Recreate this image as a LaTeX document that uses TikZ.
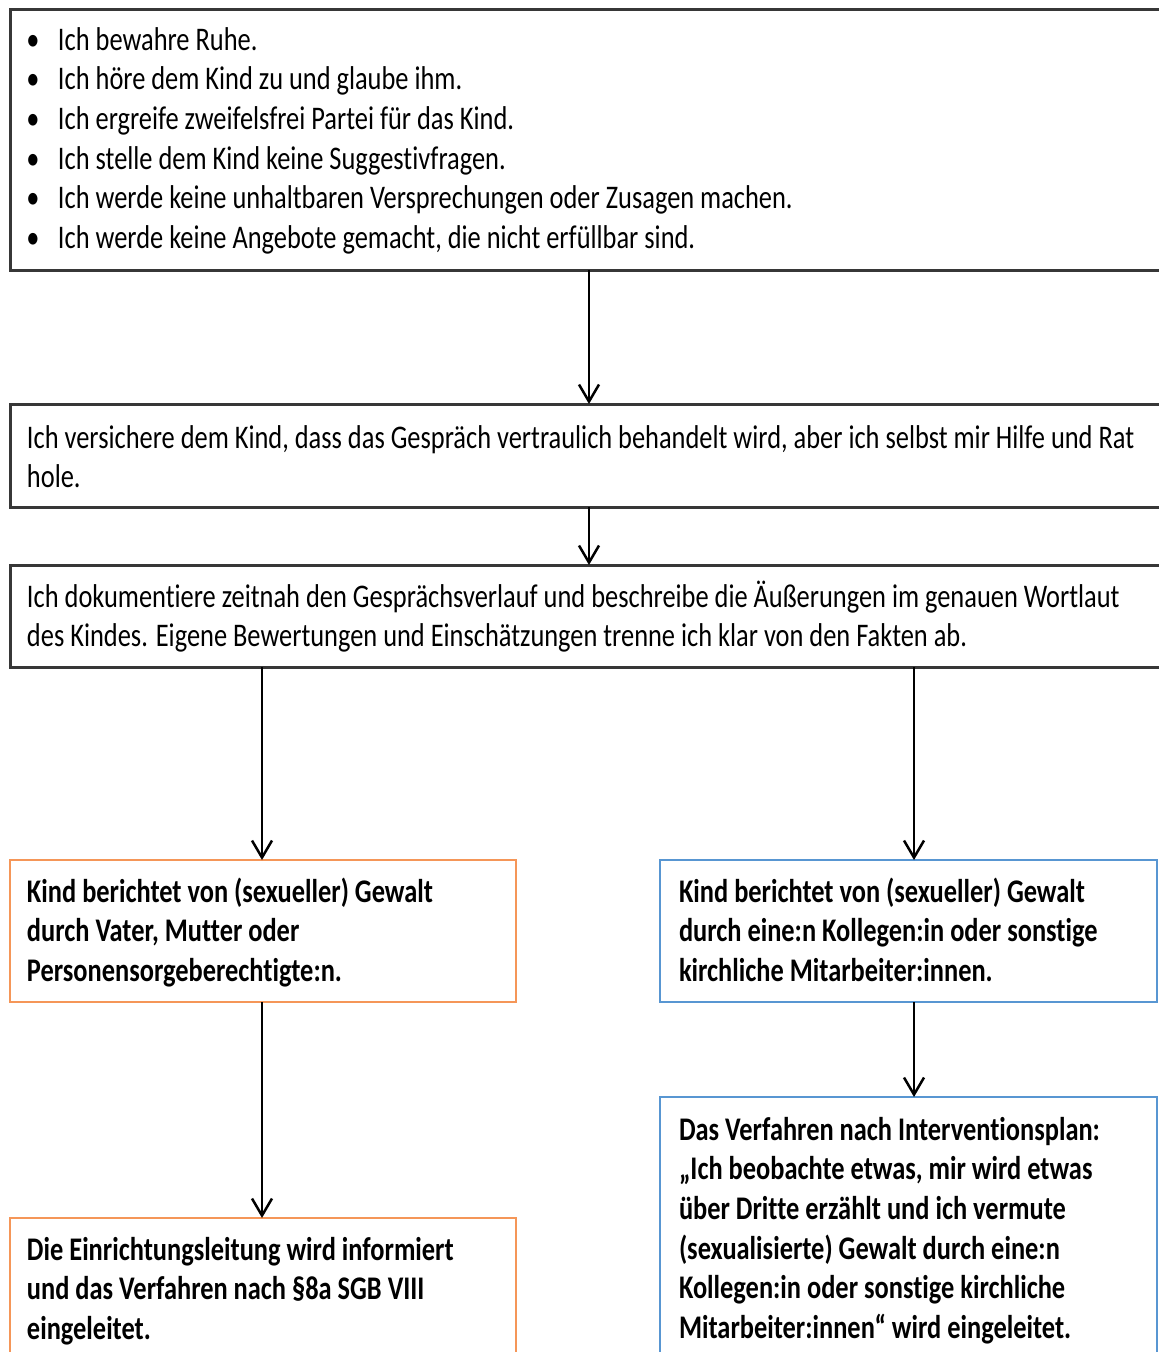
\documentclass[tikz,border=0pt]{standalone}
\usepackage{fontspec}
\setmainfont{Carlito}[FakeStretch=0.8,Ligatures=NoCommon]
\usetikzlibrary{arrows.meta}
\definecolor{boxgray}{RGB}{55,55,55}
\definecolor{boxorange}{RGB}{245,150,88}
\definecolor{boxblue}{RGB}{88,150,210}
\tikzset{
  frame/.style={rectangle, draw, line width=3pt, inner sep=0pt, outer sep=0pt, anchor=north west},
  blackbox/.style={frame, draw=boxgray},
  orangebox/.style={frame, draw=boxorange, line width=2.6pt},
  bluebox/.style={frame, draw=boxblue, line width=2.6pt},
  txt/.style={anchor=base west, inner sep=0pt, outer sep=0pt},
  arr/.style={line width=2.5pt, -{Straight Barb[length=17pt,width=20pt]}}
}
\newcommand{\bul}{\leavevmode\llap{\makebox[0pt]{•}\hspace{25pt}}}
\newcommand{\bodytext}[1]{\parbox[t]{1300pt}{\fontsize{33}{39.7}\selectfont #1}}
\begin{document}
\begin{tikzpicture}[x=1pt,y=-1pt]
\useasboundingbox (0,0) rectangle (1159,1352);
\clip (0,0) rectangle (1159,1352);
\fill[white] (0,0) rectangle (1159,1352);
% boxes
\node[blackbox, minimum width=1200pt, minimum height=261pt] (b1) at (10,9) {};
\node[blackbox, minimum width=1200pt, minimum height=103pt] (b2) at (10,404) {};
\node[blackbox, minimum width=1200pt, minimum height=102pt] (b3) at (10,565) {};
\node[orangebox, minimum width=506pt, minimum height=142pt] (b4) at (10,860) {};
\node[bluebox, minimum width=497pt, minimum height=142pt] (b5) at (660,860) {};
\node[orangebox, minimum width=506pt, minimum height=200pt] (b6) at (10,1218) {};
\node[bluebox, minimum width=497pt, minimum height=320pt] (b7) at (660,1097) {};
% texts
\node[txt] (t1) at (58,50) {\bodytext{%
\bul Ich bewahre Ruhe.\\
\bul Ich höre dem Kind zu und glaube ihm.\\
\bul Ich ergreife zweifelsfrei Partei für das Kind.\\
\bul Ich stelle dem Kind keine Suggestivfragen.\\
\bul Ich werde keine unhaltbaren Versprechungen oder Zusagen machen.\\
\bul Ich werde keine Angebote gemacht, die nicht erfüllbar sind.}};
\node[txt] (t2) at (27,448) {\bodytext{%
Ich versichere dem Kind, dass das Gespräch vertraulich behandelt wird, aber ich selbst mir Hilfe und Rat\\
hole.}};
\node[txt] (t3) at (27,607) {\bodytext{%
Ich dokumentiere zeitnah den Gesprächsverlauf und beschreibe die Äußerungen im genauen Wortlaut\\
des Kindes. Eigene Bewertungen und Einschätzungen trenne ich klar von den Fakten ab.}};
\node[txt] (t4) at (27,902) {\bodytext{\bfseries
Kind berichtet von (sexueller) Gewalt\\
durch Vater, Mutter oder\\
Personensorgeberechtigte:n.}};
\node[txt] (t5) at (679,902) {\bodytext{\bfseries
Kind berichtet von (sexueller) Gewalt\\
durch eine:n Kollegen:in oder sonstige\\
kirchliche Mitarbeiter:innen.}};
\node[txt] (t6) at (27,1260) {\bodytext{\bfseries
Die Einrichtungsleitung wird informiert\\
und das Verfahren nach §8a SGB VIII\\
eingeleitet.}};
\node[txt] (t7) at (679,1140) {\bodytext{\bfseries
Das Verfahren nach Interventionsplan:\\
„Ich beobachte etwas, mir wird etwas\\
über Dritte erzählt und ich vermute\\
(sexualisierte) Gewalt durch eine:n\\
Kollegen:in oder sonstige kirchliche\\
Mitarbeiter:innen“ wird eingeleitet.}};
% arrow columns
\coordinate (cm) at (589,0);
\coordinate (cl) at (262,0);
\coordinate (cr) at (914,0);
\draw[arr] (b1.south -| cm) -- (b2.north -| cm);
\draw[arr] (b2.south -| cm) -- (b3.north -| cm);
\draw[arr] (b3.south -| cl) -- (b4.north -| cl);
\draw[arr] (b3.south -| cr) -- (b5.north -| cr);
\draw[arr] (b4.south -| cl) -- (b6.north -| cl);
\draw[arr] (b5.south -| cr) -- (b7.north -| cr);
\end{tikzpicture}
\end{document}
